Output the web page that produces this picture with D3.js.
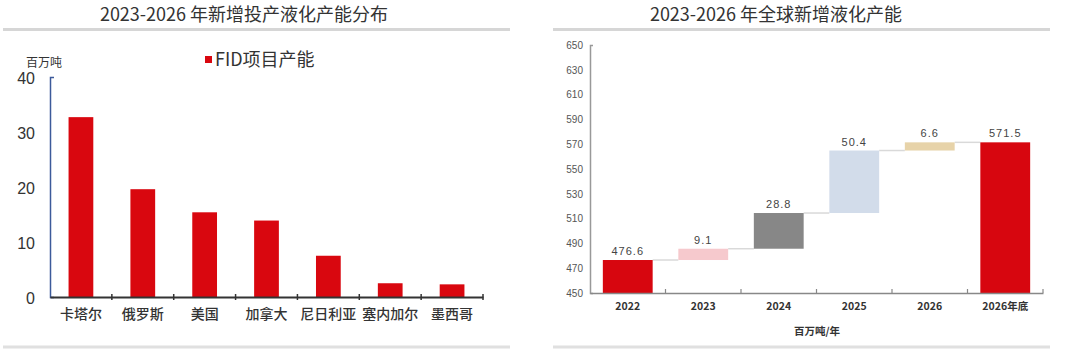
<!DOCTYPE html>
<html>
<head>
<meta charset="utf-8">
<script src="https://cdn.jsdelivr.net/npm/d3@7"></script>
<style>
  html, body { margin: 0; padding: 0; background: #fff; }
  svg { display: block; }
</style>
</head>
<body>
<div id="chart"></div>
<script>
// Left: FID capacity by country (million tonnes)
const countries = ["卡塔尔", "俄罗斯", "美国", "加拿大", "尼日利亚", "塞内加尔", "墨西哥"];
const fidValues = [32.7, 19.6, 15.4, 13.9, 7.5, 2.5, 2.3];
const leftTicks = [0, 10, 20, 30, 40];

// Right: global liquefaction capacity waterfall (million tonnes/year)
const years = ["2022", "2023", "2024", "2025", "2026", "2026年底"];
const startValue = 476.6;
const increments = [9.1, 28.8, 50.4, 6.6];
const endValue = 571.5;
const rightTicks = [450, 470, 490, 510, 530, 550, 570, 590, 610, 630, 650];
const stepColours = ["#d7060f", "#f6c9cd", "#878787", "#d2dcea", "#e7d3a9", "#d7060f"];

const width = 1080;
const height = 351;
const cjk = "'Noto Sans CJK SC', 'Noto Sans', sans-serif";
const latin = "'Liberation Sans', Arial, sans-serif";

let svg = d3
  .select("#chart")
  .append("svg")
  .attr("width", width)
  .attr("height", height);

// panel titles and divider lines
const panels = [
  { title: "2023-2026 年新增投产液化产能分布", cx: 244, x0: 3, x1: 510 },
  { title: "2023-2026 年全球新增液化产能", cx: 776, x0: 553, x1: 1050 },
];
panels.forEach((p) => {
  svg
    .append("text")
    .attr("x", p.cx)
    .attr("y", 21)
    .attr("text-anchor", "middle")
    .style("font-family", cjk)
    .style("font-size", "18px")
    .style("fill", "#333")
    .text(p.title);
  svg
    .append("line")
    .attr("x1", p.x0)
    .attr("x2", p.x1)
    .attr("y1", 29.5)
    .attr("y2", 29.5)
    .attr("stroke", "#d6d6d6")
    .attr("stroke-width", 3);
  svg
    .append("line")
    .attr("x1", p.x0)
    .attr("x2", p.x1)
    .attr("y1", 347)
    .attr("y2", 347)
    .attr("stroke", "#e0e0e0")
    .attr("stroke-width", 3);
});

// ---------- left bar chart ----------
const lx = d3.scaleBand().domain(countries).range([50, 483]).paddingInner(0).paddingOuter(0);
const ly = d3.scaleLinear().domain([0, 40]).range([297, 77]);
const barW = lx.bandwidth() * 0.4;

let left = svg.append("g");

left
  .selectAll("rect.fid")
  .data(fidValues)
  .enter()
  .append("rect")
  .attr("class", "fid")
  .attr("x", (d, i) => lx(countries[i]) + (lx.bandwidth() - barW) / 2)
  .attr("y", (d) => ly(d))
  .attr("width", barW)
  .attr("height", (d) => ly(0) - ly(d))
  .attr("fill", "#d9070f");

let lyAxis = left
  .append("g")
  .attr("transform", "translate(50,0)")
  .call(d3.axisLeft(ly).tickValues(leftTicks).tickSizeInner(0).tickSizeOuter(-4).tickPadding(15));
lyAxis.select(".domain").attr("stroke", "#3c5a9a").attr("stroke-width", 1.5);
lyAxis
  .selectAll("text")
  .attr("dy", "0.4em")
  .style("font-family", latin)
  .style("font-size", "16px")
  .style("fill", "#333");

let lxAxis = left
  .append("g")
  .attr("transform", "translate(0,297)")
  .call(d3.axisBottom(lx).tickSize(0).tickPadding(12));
lxAxis.select(".domain").attr("stroke", "#333").attr("stroke-width", 2);
lxAxis
  .selectAll("text")
  .style("font-family", cjk)
  .style("font-size", "14px")
  .style("font-weight", "500")
  .style("fill", "#333");
// boundary tick marks
left
  .selectAll("line.btick")
  .data(countries)
  .enter()
  .append("line")
  .attr("class", "btick")
  .attr("x1", (d) => lx(d) + lx.bandwidth())
  .attr("x2", (d) => lx(d) + lx.bandwidth())
  .attr("y1", 294)
  .attr("y2", 300)
  .attr("stroke", "#333")
  .attr("stroke-width", 1.5);

left
  .append("text")
  .attr("x", 26)
  .attr("y", 67)
  .style("font-family", cjk)
  .style("font-size", "12px")
  .style("fill", "#333")
  .text("百万吨");

// legend
left
  .append("rect")
  .attr("x", 205)
  .attr("y", 56)
  .attr("width", 7)
  .attr("height", 7)
  .attr("fill", "#d9070f");
left
  .append("text")
  .attr("x", 215)
  .attr("y", 66)
  .style("font-family", cjk)
  .style("font-size", "18px")
  .style("fill", "#333")
  .text("FID项目产能");

// ---------- right waterfall ----------
const rx = d3.scaleBand().domain(years).range([590, 1043]).paddingInner(0).paddingOuter(0);
const ry = d3.scaleLinear().domain([450, 650]).range([293, 45]);
const rBarW = rx.bandwidth() * 0.66;

let steps = [];
steps.push({ name: years[0], lo: 450, hi: startValue, label: startValue });
let running = startValue;
increments.forEach((v, i) => {
  steps.push({ name: years[i + 1], lo: running, hi: running + v, label: v });
  running += v;
});
steps.push({ name: years[years.length - 1], lo: 450, hi: endValue, label: endValue });

let right = svg.append("g");

// connectors
right
  .selectAll("line.conn")
  .data(steps.slice(0, -1))
  .enter()
  .append("line")
  .attr("class", "conn")
  .attr("x1", (d) => rx(d.name) + (rx.bandwidth() + rBarW) / 2)
  .attr("x2", (d, i) => rx(steps[i + 1].name) + (rx.bandwidth() - rBarW) / 2)
  .attr("y1", (d) => ry(d.hi))
  .attr("y2", (d) => ry(d.hi))
  .attr("stroke", "#d9d9d9")
  .attr("stroke-width", 1.5);

right
  .selectAll("rect.step")
  .data(steps)
  .enter()
  .append("rect")
  .attr("class", "step")
  .attr("x", (d) => rx(d.name) + (rx.bandwidth() - rBarW) / 2)
  .attr("y", (d) => ry(d.hi))
  .attr("width", rBarW)
  .attr("height", (d) => ry(d.lo) - ry(d.hi))
  .attr("fill", (d, i) => stepColours[i]);

right
  .selectAll("text.val")
  .data(steps)
  .enter()
  .append("text")
  .attr("class", "val")
  .attr("x", (d) => rx(d.name) + rx.bandwidth() / 2)
  .attr("y", (d) => ry(d.hi) - 5)
  .attr("text-anchor", "middle")
  .style("font-family", latin)
  .style("font-size", "11px")
  .style("letter-spacing", "1px")
  .style("fill", "#444")
  .text((d) => d.label.toFixed(1));

let ryAxis = right
  .append("g")
  .attr("transform", "translate(590,0)")
  .call(d3.axisLeft(ry).tickValues(rightTicks).tickSizeInner(0).tickSizeOuter(-3).tickPadding(7));
ryAxis.select(".domain").attr("stroke", "#999").attr("stroke-width", 1.5);
ryAxis
  .selectAll("text")
  .style("font-family", latin)
  .style("font-size", "10px")
  .style("fill", "#555");

let rxAxis = right
  .append("g")
  .attr("transform", "translate(0,293)")
  .call(d3.axisBottom(rx).tickSize(0).tickPadding(10));
rxAxis.select(".domain").attr("stroke", "#888").attr("stroke-width", 1.5);
rxAxis
  .selectAll("text")
  .style("font-family", cjk)
  .style("font-size", "10.5px")
  .style("font-weight", "bold")
  .style("fill", "#333");
right
  .selectAll("line.rtick")
  .data(years)
  .enter()
  .append("line")
  .attr("class", "rtick")
  .attr("x1", (d) => rx(d) + rx.bandwidth())
  .attr("x2", (d) => rx(d) + rx.bandwidth())
  .attr("y1", 289)
  .attr("y2", 293)
  .attr("stroke", "#888")
  .attr("stroke-width", 1.2);

right
  .append("text")
  .attr("x", 817)
  .attr("y", 335)
  .attr("text-anchor", "middle")
  .style("font-family", cjk)
  .style("font-size", "10.5px")
  .style("font-weight", "bold")
  .style("fill", "#333")
  .text("百万吨/年");
</script>
</body>
</html>
